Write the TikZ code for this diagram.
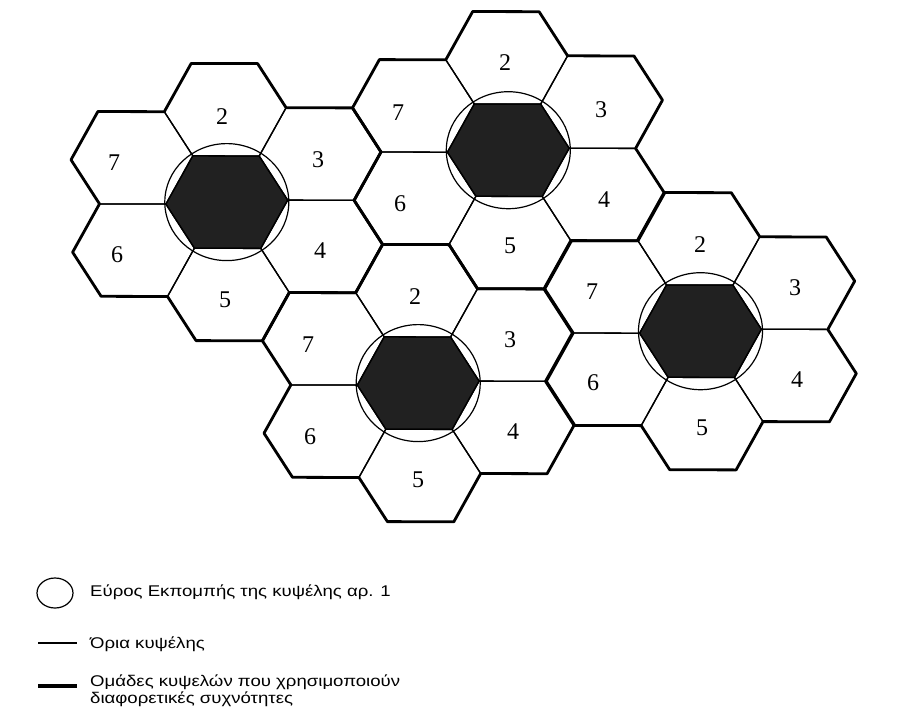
\documentclass[tikz,border=0pt]{standalone}
\usepackage{fontspec}
\setmainfont{Liberation Serif}
\newfontfamily\legendfont[FakeStretch=1.2]{Liberation Sans}
\usetikzlibrary{calc}
\begin{document}
\begin{tikzpicture}[x=1pt,y=-1pt,
  cellline/.style={line width=1.3pt, line join=round},
  clusterline/.style={line width=2.8pt, line join=round, line cap=round},
  legendthick/.style={line width=3.2pt},
  rangecircle/.style={line width=1.2pt},
  basecell/.style={fill=black!87},
  cellnum/.style={font=\fontsize{24}{24}\selectfont, inner sep=0pt},
  legendtext/.style={font=\legendfont\fontsize{15.5}{17}\selectfont, anchor=west, inner sep=0pt, align=left},
  cluster/.pic={
    \fill[basecell] (60.9,-2.0) -- (34,46.3) -- (-32.4,46.1) -- (-60.9,2.0) -- (-34,-46.3) -- (32.4,-46.1) -- cycle;
    \foreach \dx/\dy in {0/0,-1.6/-92.4,93.3/-48.1,94.9/44.3,1.6/92.4,-93.3/48.1,-94.9/-44.3}{
      \draw[cellline, shift={(\dx,\dy)}] (60.9,-2.0) -- (34,46.3) -- (-32.4,46.1) -- (-60.9,2.0) -- (-34,-46.3) -- (32.4,-46.1) -- cycle;
    }
    \draw[rangecircle] (0,0) ellipse [x radius=62, y radius=58.5];
    \draw[clusterline] (127.3,-1.8) -- (155.8,42.3) -- (128.9,90.6)
      -- (62.5,90.4) -- (35.6,138.7) -- (-30.8,138.5)
      -- (-59.3,94.4) -- (-125.7,94.2) -- (-154.2,50.1)
      -- (-127.3,1.8) -- (-155.8,-42.3) -- (-128.9,-90.6)
      -- (-62.5,-90.4) -- (-35.6,-138.7) -- (30.8,-138.5)
      -- (59.3,-94.4) -- (125.7,-94.2) -- (154.2,-50.1) -- cycle;
  }]
\useasboundingbox (0,0) rectangle (918,715);
\fill[white] (0,0) rectangle (918,715);

% cluster centres
\coordinate (c1) at (226.8,202.1);
\coordinate (c2) at (508.3,150.2);
\coordinate (c3) at (418.2,383.1);
\coordinate (c4) at (700.5,331.2);

\pic at (c1) {cluster};
\pic at (c2) {cluster};
\pic at (c3) {cluster};
\pic at (c4) {cluster};

% labels cluster 1
\node[cellnum] (a2) at (222,117) {2};
\node[cellnum] (a7) at (114,163) {7};
\node[cellnum] (a3) at (318,160) {3};
\node[cellnum] (a6) at (117,255) {6};
\node[cellnum] (a4) at (320,251) {4};
\node[cellnum] (a5) at (225,300) {5};
% cluster 2
\node[cellnum] (b2) at (505,63) {2};
\node[cellnum] (b7) at (398,113) {7};
\node[cellnum] (b3) at (601,110) {3};
\node[cellnum] (b6) at (400,204) {6};
\node[cellnum] (b4) at (604,200) {4};
\node[cellnum] (b5) at (510,246) {5};
% cluster 3
\node[cellnum] (d2) at (415,297) {2};
\node[cellnum] (d7) at (308,345) {7};
\node[cellnum] (d3) at (510,340) {3};
\node[cellnum] (d6) at (310,437) {6};
\node[cellnum] (d4) at (513,432) {4};
\node[cellnum] (d5) at (418,480) {5};
% cluster 4
\node[cellnum] (e2) at (700,245) {2};
\node[cellnum] (e7) at (592,292) {7};
\node[cellnum] (e3) at (795,288) {3};
\node[cellnum] (e6) at (593,383) {6};
\node[cellnum] (e4) at (797,380) {4};
\node[cellnum] (e5) at (702,428) {5};

% legend
\draw[rangecircle] (55,593) ellipse [x radius=18, y radius=15];
\coordinate (l1a) at (38,643);
\coordinate (l1b) at (77,643);
\draw[cellline] (l1a) -- (l1b);
\coordinate (l2a) at (38,686);
\coordinate (l2b) at (77,686);
\draw[legendthick] (l2a) -- (l2b);
\node[legendtext] (t1) at (90,592) {Εύρος Εκπομπής της κυψέλης αρ. 1};
\node[legendtext] (t2) at (90,644) {Όρια κυψέλης};
\node[legendtext, anchor=north west] (t3) at (90,675) {Ομάδες κυψελών που χρησιμοποιούν\\διαφορετικές συχνότητες};
\end{tikzpicture}
\end{document}
